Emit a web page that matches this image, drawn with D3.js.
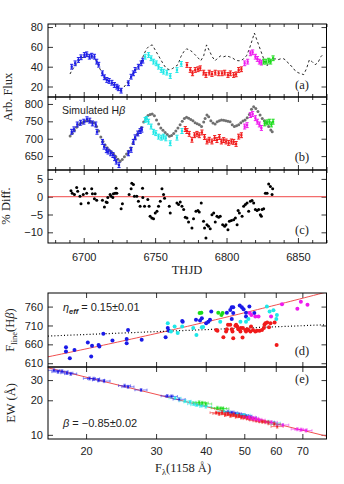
<!DOCTYPE html>
<html><head><meta charset="utf-8">
<script src="https://cdn.jsdelivr.net/npm/d3@7"></script>
<style>body{margin:0;background:#fff}svg{display:block}</style>
</head><body><svg id="c" width="344" height="484"></svg>
<script>
// ---------- DATA ----------
// Panel (a): observed points (colour groups) and dashed continuum light curve
const aBlueT=[6691.6,6694.0,6696.3,6698.1,6700.5,6702.1,6704.0,6705.6,6707.5,6709.1,6710.5,6713.1,6714.5,6716.2,6717.8,6719.7,6721.5,6723.2,6724.3,6726.2,6731.3,6733.2,6734.8,6736.0,6738.3,6740.2,6741.4];
const aBlueV=[40.0,43.4,46.8,49.5,51.8,52.5,50.1,51.1,50.1,45.1,42.0,33.3,29.3,26.6,25.6,23.8,21.5,19.8,18.2,15.8,23.3,29.9,33.3,36.7,40.0,43.4,46.1];
const aCyanT=[6743.0,6745.4,6747.2,6748.9,6750.8,6752.4,6754.3,6755.9,6758.2,6760.6,6765.3,6768.3];
const aCyanV=[50.1,51.8,48.5,45.1,43.4,40.0,36.7,35.0,34.0,30.6,36.6,42.8];
const aRedT=[6772.3,6774.6,6776.2,6778.1,6780.0,6781.6,6784.0,6785.6,6787.9,6789.8,6792.1,6794.5,6796.8,6798.7,6801.0,6802.7,6805.0,6806.7,6808.5,6810.4];
const aRedV=[41.7,36.7,33.3,36.7,37.4,38.4,34.0,31.6,34.0,32.6,34.0,33.3,33.3,34.0,31.6,33.3,31.6,32.3,36.7,37.4];
const aMagT=[6812.7,6814.8,6816.7,6818.3,6820.2,6821.6,6823.0,6824.4];
const aMagV=[43.4,45.1,53.5,54.5,50.1,47.8,45.1,44.1];
const aGrnT=[6826.0,6827.7,6829.5,6830.9,6832.6];
const aGrnV=[45.1,45.1,46.1,45.1,48.5];
const contT=[6690.4,6692,6694,6696,6698,6700,6702,6704,6706,6708,6710,6712,6714,6716,6718,6720,6722,6724,6726,6728,6730,6732,6734,6736,6738,6740,6742,6744,6746,6748,6750,6752,6754,6756,6758,6760,6762,6764,6766,6768,6770,6772,6774,6776,6778,6780,6782,6784,6786,6788,6790,6792,6794,6796,6798,6800,6802,6804,6806,6808,6810,6812,6814,6816,6818,6819.5,6821,6823,6825,6827,6828.5,6830,6832,6834,6836,6838,6840,6842,6844,6846,6848,6850,6852,6854,6856,6858,6860,6862,6864,6866,6868];
const contV=[32.6,37,41,45,48,50,51,50,50,48,42,36,30,27,25,23,21,19,17,19,23,27,32,36,40,44,52,58,61,62,57,52,47,42,38,37,38,40,42,50,55,58,57,55,52,49,46,51,62,56,50,46,49,51,50,51,50,49,47,46,46,48,51,58,67,74,68,60,52,44,41,45,47,48,47,48,48,46,42,40,36,34,33,32,38,47,45,42,44,50,53];

// Panel (b): observed H-beta (colour groups) and simulated H-beta (grey)
const bBlueT=[6691.6,6693.2,6695.5,6697.8,6700.1,6702.3,6704.2,6706.1,6708.4,6709.3,6713.1,6714.3,6715.9,6717.1,6718.9,6720.5,6721.7,6722.8,6724.7,6731.3,6733.2,6734.8,6736.0,6737.9,6739.5,6740.7];
const bBlueV=[720,727,741,746,749,756,752,744,741,720,691,677,667,663,658,653,644,634,624,658,668,691,704,715,722,726];
const bCyanT=[6743.0,6744.2,6745.4,6747.2,6748.9,6750.5,6752.4,6754.3,6755.9,6757.5,6760.6,6765.3,6768.8];
const bCyanV=[754,757,749,735,720,716,706,703,706,701,687,703,722];
const bRedT=[6771.1,6772.3,6773.9,6775.8,6777.6,6779.3,6780.9,6782.8,6784.6,6786.3,6787.9,6789.8,6791.7,6793.3,6795.0,6796.4,6798.0,6799.7,6801.5,6803.4,6805.0,6806.7,6808.5,6810.4];
const bRedV=[728,722,714,697,710,714,710,718,705,692,697,692,702,696,705,692,696,692,688,692,691,685,706,710];
const bMagT=[6812.7,6814.4,6816.7,6818.3,6820.2,6821.6,6823.0,6824.4];
const bMagV=[735,739,768,771,759,749,741,731];
const bGrnT=[6826.7,6828.4,6830.0,6831.4,6832.6];
const bGrnV=[744,747,749,741,749];
const simT=[6690.5,6692,6693.5,6695,6697,6699,6701,6703,6705,6707,6709,6710.5,6712,6713.5,6715,6716.5,6718,6719.5,6721,6722.5,6724,6725.5,6727,6728.5,6730,6731.5,6733,6734.5,6736,6737.5,6739,6740.5,6742,6743.5,6745,6746.5,6748,6749.5,6751,6752.5,6754,6755.5,6757,6758.5,6760,6761.5,6763,6764.5,6766,6767.5,6769,6770.5,6772,6773.5,6775,6776.5,6778,6779.5,6781,6782.5,6784,6785,6786.3,6787.5,6789,6790.5,6792,6793.5,6795,6796.5,6798,6799.5,6801,6802.5,6804,6805.5,6807,6808.5,6810,6811.5,6813,6814.5,6816,6817.5,6819,6820.5,6822,6823.5,6825,6826.5,6828,6829.5,6831,6832];
const simV=[708,716,724,733,741,746,750,752,749,746,735,722,705,692,682,674,667,661,655,648,641,635,640,648,656,664,673,686,700,712,722,732,748,760,767,770,771,766,754,742,731,724,718,712,707,709,715,722,731,740,750,758,762,759,755,752,746,743,740,735,748,758,768,763,752,745,742,749,752,754,753,752,750,749,740,735,737,740,746,751,754,760,770,785,792,787,778,768,758,752,746,735,725,720];

// Panel (c): % difference
const diffT=[6691.1,6692.0,6693.5,6695.1,6695.8,6697.4,6698.1,6699.7,6700.5,6702.1,6703.3,6705.6,6706.1,6707.5,6708.0,6709.1,6713.1,6714.5,6715.7,6716.4,6716.9,6718.5,6719.2,6720.4,6720.8,6722.0,6722.7,6723.2,6726.2,6727.1,6731.8,6733.2,6733.7,6734.8,6735.5,6737.2,6738.3,6739.5,6741.2,6741.4,6742.6,6744.9,6745.8,6746.5,6747.7,6748.9,6750.1,6751.3,6752.4,6753.6,6754.8,6755.9,6756.6,6759.9,6760.6,6765.3,6766.4,6767.6,6768.8,6770.0,6771.1,6772.3,6773.4,6775.8,6776.9,6778.6,6780.0,6780.9,6782.3,6783.9,6784.6,6785.6,6786.3,6787.4,6788.6,6789.8,6791.0,6792.1,6793.3,6794.5,6795.6,6797.3,6798.7,6799.6,6801.0,6802.0,6803.4,6805.0,6806.2,6807.4,6808.1,6809.0,6810.9,6812.0,6813.2,6814.4,6815.5,6816.7,6817.9,6819.0,6820.2,6821.4,6822.5,6823.7,6824.4,6824.9,6826.0,6827.2,6828.4,6829.5,6830.7,6831.9,6832.3];
const diffV=[1.7,1.0,0.6,2.6,1.5,0.1,-2.0,0.6,2.2,1.0,-1.8,2.2,0.8,-0.6,0.8,-1.0,-1.0,-2.9,-1.5,-1.6,-0.2,0.6,0.1,-0.2,0.8,1.0,2.4,1.0,-3.4,-2.0,0.6,2.2,3.8,3.4,0.1,0.1,-1.3,-2.7,2.4,-0.2,-2.7,-0.8,-2.7,-5.5,-6.0,-6.2,-4.6,-4.1,-2.7,-1.3,2.2,0.6,-0.4,-2.7,-4.6,-1.8,-2.2,-1.5,-2.7,-3.6,-5.8,-6.0,-7.1,-8.8,-6.2,-4.1,-3.9,-4.3,-1.8,-6.9,-8.8,-11.6,-7.9,-8.3,-9.0,-5.1,-4.6,-7.1,-5.5,-5.8,-5.5,-7.9,-8.3,-7.9,-9.3,-6.9,-6.7,-6.5,-6.0,-7.9,-3.9,-4.6,-5.5,-2.7,-2.2,-1.8,-4.1,-1.3,-1.1,-1.8,-3.6,-3.9,-3.6,-5.1,-5.5,-3.6,-3.4,1.0,1.0,3.6,2.9,0.6,2.2];

// Panel (d): F_line(Hbeta) vs F_lambda(1158)
const dBlueF=[17.8,17.8,18.2,18.7,20.2,20.6,20.7,21.5,21.6,22.1,23.3,25.3,25.3,25.5,27.6,31.7,32.1,32.3,34.9,35.0,37.8,38.7,39.1,40.1,40.6,41.3,41.0,45.2,46.1,46.5,46.5,46.9,46.9,48.7,49.3,49.8,50.5,51.5,50.5,53.0];
const dBlueV=[652,641,623,645,665,628,656,658,654,688,670,674,663,698,672,679,703,696,722,720,725,723,729,716,720,747,725,744,751,758,727,758,743,763,758,753,744,760,734,743];
const dCyanF=[32.1,32.7,33.4,34.0,34.9,37.2,37.9,39.1,39.4,43.5,48.9,50.5,51.2,57.0,57.9,59.2,60.2,60.4];
const dCyanV=[716,694,707,690,707,703,685,705,706,720,720,720,727,760,747,750,727,738];
const dGrnF=[38.6,39.0,43.0,43.8,44.1];
const dGrnV=[743,744,744,738,743];
const dMagF=[51.6,52.1,53.3,54.3,58.4,62.2,68.0,69.4,72.1];
const dMagV=[743,738,734,734,734,766,754,773,765];
const dRedF=[42.5,42.8,44.3,45.0,45.2,45.5,46.1,46.5,46.7,46.9,47.5,47.7,48.0,48.3,48.9,49.0,49.5,49.6,50.3,50.5,50.9,51.2,51.8,52.0,52.6,53.3,53.8,54.6,55.4,56.0,56.2,56.5,57.1,57.7,58.2,59.6,60.3];
const dRedV=[698,696,679,694,700,712,712,700,694,676,709,712,707,700,694,703,678,703,698,694,700,698,694,707,698,694,696,696,698,703,712,716,718,705,716,718,658];

// Panel (e): EW vs F_lambda(1158)
const eBlueF=[16.6,17.0,17.4,17.9,18.3,20.4,20.9,21.5,22.2,25.0,25.5,27.5,32.0,32.8,34.3,45.5,46.5,47.5,48.5,49.5,50.5,51.8];
const eBlueEW=[36.5,35.4,35.8,34.6,34.0,31.0,30.8,30.0,29.4,26.8,26.2,24.6,21.8,21.6,20.4,15.9,15.6,15.3,15.1,14.8,14.6,14.2];
const eCyanF=[33.5,35.5,36.5,37.3,38.0,39.0,40.0,44.5,48.0,50.0,57.5,59.5,60.5];
const eCyanEW=[20.9,19.7,19.3,18.6,18.2,18.0,17.6,16.0,15.1,14.9,13.0,12.7,12.3];
const eGrnF=[38.5,39.2,40.0,42.8,43.6,44.2];
const eGrnEW=[19.2,19.0,18.6,17.2,17.0,16.9];
const eRedF=[42.5,43.2,44.0,44.8,45.5,46.2,47.0,47.7,48.5,49.2,50.0,50.8,51.5,52.5,53.5,54.5,55.5,56.5,57.5,59.5,60.5];
const eRedEW=[15.6,15.3,15.6,15.0,15.2,14.7,15.0,14.5,14.6,14.2,14.3,14.0,13.8,13.7,13.4,13.2,13.1,12.9,12.8,12.4,11.8];
const eMagF=[51.5,52.5,53.5,54.5,58.5,62.5,68.0,69.5,71.5];
const eMagEW=[14.3,14.0,13.7,13.5,12.9,12.2,11.2,11.1,10.9];

// Fits
const etaFit=0.15, etaNorm=626.7, etaRef=16;      // F_line = norm*(F/ref)^eta
const flatFit=[[16.04,682],[80.5,712]];           // dotted line ends
const betaFit=-0.85, betaNorm=406;                // EW = norm*F^beta

// Tick values
const tMajor=[6700,6750,6800,6850];
const tMinor=[6680,6690,6710,6720,6730,6740,6760,6770,6780,6790,6810,6820,6830,6840,6860,6870];
const aTicks=[20,40,60,80], bTicks=[650,700,750,800], cTicks=[-10,-5,0,5];
const dTicks=[610,660,710,760], eTicks=[10,20,30], fTicks=[20,30,40,50,60,70];

// ---------- DRAWING ----------
const colors={blue:"#1a1ae8",cyan:"#1ee8e8",red:"#f01a1a",mag:"#ee1aee",grn:"#1adc1a"};
const svg=d3.select("#c");
const sans="'Liberation Sans', Arial, sans-serif";
const serif="'Liberation Serif', 'Times New Roman', serif";
const L=48,R=326.5;
const P={a:[24,97],b:[97,170],c:[170,243],d:[293,367],e:[367,439]};

const xT=d3.scaleLinear().domain([6675,6870]).range([L,R]);
const yA=d3.scaleLinear().domain([9.4,83.1]).range([P.a[1],P.a[0]]);
const yB=d3.scaleLinear().domain([610,820]).range([P.b[1],P.b[0]]);
const yC=d3.scaleLinear().domain([-13,7.5]).range([P.c[1],P.c[0]]);
const xF=d3.scaleLog().domain([16.04,80.5]).range([L,R]);
const yD=d3.scaleLinear().domain([600,796]).range([P.d[1],P.d[0]]);
const yE=d3.scaleLog().domain([9.2,39]).range([P.e[1],P.e[0]]);

const defs=svg.append("defs");
Object.entries(P).forEach(([k,p])=>{
  defs.append("clipPath").attr("id","clip"+k).append("rect")
    .attr("x",L).attr("y",p[0]).attr("width",R-L).attr("height",p[1]-p[0]);
});

function ax(fn,scale,vals,size,tr,fmt,pad){
  const a=fn(scale).tickValues(vals).tickSize(-size).tickPadding(pad||5)
    .tickFormat(fmt||(()=>""));
  const g=svg.append("g").attr("transform",tr).call(a);
  g.select(".domain").remove();
  g.selectAll("line").attr("stroke","#000").attr("stroke-width",0.8);
  g.selectAll("text").attr("font-family",sans).attr("font-size",11).attr("fill","#222");
  return g;
}
const minus=d=>(d<0?"\u2212"+Math.abs(d):""+d);

// time panels axes
[["a",yA,aTicks],["b",yB,bTicks],["c",yC,cTicks]].forEach(([k,ys,tv])=>{
  const [t,b]=P[k];
  ax(d3.axisTop,xT,tMajor,5,`translate(0,${t})`);
  ax(d3.axisTop,xT,tMinor,3,`translate(0,${t})`);
  ax(d3.axisBottom,xT,tMajor,5,`translate(0,${b})`, k==="c"?(d=>d):null, 10);
  ax(d3.axisBottom,xT,tMinor,3,`translate(0,${b})`);
  ax(d3.axisLeft,ys,tv,5,`translate(${L},0)`,minus,5);
  ax(d3.axisRight,ys,tv,5,`translate(${R},0)`);
});
// flux panels axes
ax(d3.axisTop,xF,fTicks,5,`translate(0,${P.d[0]})`);
ax(d3.axisBottom,xF,fTicks,5,`translate(0,${P.d[1]})`);
ax(d3.axisLeft,yD,dTicks,5,`translate(${L},0)`,d=>d,5);
ax(d3.axisRight,yD,dTicks,5,`translate(${R},0)`);
ax(d3.axisTop,xF,fTicks,5,`translate(0,${P.e[0]})`);
ax(d3.axisBottom,xF,fTicks,5,`translate(0,${P.e[1]})`,d=>d,8);
ax(d3.axisLeft,yE,eTicks,5,`translate(${L},0)`,d=>d,5);
ax(d3.axisRight,yE,eTicks,5,`translate(${R},0)`);

const zip=(A,B)=>A.map((v,i)=>[v,B[i]]);

// error bar "I" markers
function ibars(g,T,V,err,ys,col){
  zip(T,V).forEach(([t,v])=>{
    const x=xT(t),y0=ys(v-err),y1=ys(v+err);
    g.append("line").attr("x1",x).attr("x2",x).attr("y1",y0).attr("y2",y1).attr("stroke",col).attr("stroke-width",1);
    [y0,y1].forEach(y=>g.append("line").attr("x1",x-1.6).attr("x2",x+1.6).attr("y1",y).attr("y2",y).attr("stroke",col).attr("stroke-width",1));
    g.append("rect").attr("x",x-1.1).attr("y",ys(v)-1.1).attr("width",2.2).attr("height",2.2).attr("fill",col);
  });
}

// Panel a
const ga=svg.append("g").attr("clip-path","url(#clipa)");
ga.append("path").datum(zip(contT,contV))
  .attr("d",d3.line().x(d=>xT(d[0])).y(d=>yA(d[1])))
  .attr("fill","none").attr("stroke","#111").attr("stroke-width",0.9).attr("stroke-dasharray","2.5,2.5");
const aErr=2.4;
ibars(ga,aBlueT,aBlueV,aErr,yA,colors.blue);
ibars(ga,aCyanT,aCyanV,aErr,yA,colors.cyan);
ibars(ga,aRedT,aRedV,aErr,yA,colors.red);
ibars(ga,aMagT,aMagV,aErr,yA,colors.mag);
ibars(ga,aGrnT,aGrnV,aErr,yA,colors.grn);

// Panel b
const gb=svg.append("g").attr("clip-path","url(#clipb)");
gb.selectAll("circle").data(zip(simT,simV)).join("circle")
  .attr("cx",d=>xT(d[0])).attr("cy",d=>yB(d[1])).attr("r",1.5).attr("fill","#707070");
const bErr=7;
ibars(gb,bBlueT,bBlueV,bErr,yB,colors.blue);
ibars(gb,bCyanT,bCyanV,bErr,yB,colors.cyan);
ibars(gb,bRedT,bRedV,bErr,yB,colors.red);
ibars(gb,bMagT,bMagV,bErr,yB,colors.mag);
ibars(gb,bGrnT,bGrnV,bErr,yB,colors.grn);

// Panel c
const gc=svg.append("g").attr("clip-path","url(#clipc)");
gc.append("line").attr("x1",L).attr("x2",R).attr("y1",yC(0)).attr("y2",yC(0)).attr("stroke","#f04848").attr("stroke-width",1);
gc.selectAll("circle").data(zip(diffT,diffV)).join("circle")
  .attr("cx",d=>xT(d[0])).attr("cy",d=>yC(d[1])).attr("r",1.5).attr("fill","#000");

// Panel d
const gd=svg.append("g").attr("clip-path","url(#clipd)");
const fr=d3.range(0,61).map(i=>16*Math.pow(81/16,i/60));
gd.append("path").datum(fr).attr("d",d3.line().x(f=>xF(f)).y(f=>yD(etaNorm*Math.pow(f/etaRef,etaFit))))
  .attr("fill","none").attr("stroke","#f05050").attr("stroke-width",1);
gd.append("path").datum(flatFit).attr("d",d3.line().x(d=>xF(d[0])).y(d=>yD(d[1])))
  .attr("fill","none").attr("stroke","#000").attr("stroke-width",1.2).attr("stroke-dasharray","1,2.2");
[[dBlueF,dBlueV,colors.blue],[dCyanF,dCyanV,colors.cyan],[dGrnF,dGrnV,colors.grn],[dMagF,dMagV,colors.mag],[dRedF,dRedV,colors.red]]
.forEach(([F,V,col])=>{
  gd.append("g").selectAll("circle").data(zip(F,V)).join("circle")
    .attr("cx",d=>xF(d[0])).attr("cy",d=>yD(d[1])).attr("r",2).attr("fill",col);
});

// Panel e
const ge=svg.append("g").attr("clip-path","url(#clipe)");
ge.append("path").datum([16,81]).attr("d",d3.line().x(f=>xF(f)).y(f=>yE(betaNorm*Math.pow(f,betaFit))))
  .attr("fill","none").attr("stroke","#f05050").attr("stroke-width",1);
const fErr=0.035, ewErr=0.03;
[[eBlueF,eBlueEW,colors.blue],[eCyanF,eCyanEW,colors.cyan],[eGrnF,eGrnEW,colors.grn],[eRedF,eRedEW,colors.red],[eMagF,eMagEW,colors.mag]]
.forEach(([F,E,col])=>{
  const g=ge.append("g");
  zip(F,E).forEach(([f,e])=>{
    const x=xF(f),y=yE(e),x0=xF(f*(1-fErr)),x1=xF(f*(1+fErr)),y0=yE(e*(1-ewErr)),y1=yE(e*(1+ewErr));
    const s=g.append("g").attr("stroke",col).attr("stroke-width",0.9).attr("opacity",0.6);
    s.append("line").attr("x1",x0).attr("x2",x1).attr("y1",y).attr("y2",y);
    s.append("line").attr("x1",x).attr("x2",x).attr("y1",y0).attr("y2",y1);
    [x0,x1].forEach(xx=>s.append("line").attr("x1",xx).attr("x2",xx).attr("y1",y-1.3).attr("y2",y+1.3));
    [y0,y1].forEach(yy=>s.append("line").attr("x1",x-1.3).attr("x2",x+1.3).attr("y1",yy).attr("y2",yy));
    g.append("rect").attr("x",x-0.9).attr("y",y-0.9).attr("width",1.8).attr("height",1.8).attr("fill",col);
  });
});

// frames
Object.values(P).forEach(p=>{
  svg.append("rect").attr("x",L).attr("y",p[0]).attr("width",R-L).attr("height",p[1]-p[0])
    .attr("fill","none").attr("stroke","#000").attr("stroke-width",1);
});

// ---------- TEXT ----------
function txt(x,y,s,opt){
  const t=svg.append("text").attr("x",x).attr("y",y).attr("font-family",opt.font||serif)
    .attr("font-size",opt.size||12).attr("fill","#222").attr("text-anchor",opt.anchor||"middle");
  if(opt.rot) t.attr("transform",`rotate(-90,${x},${y})`);
  if(typeof s==="string") t.text(s); else s(t);
  return t;
}
txt(12,97,"Arb. Flux",{rot:true,size:12.5});
txt(10,206,"% Diff.",{rot:true,size:12.5});
txt(187,274,"THJD",{size:12.5});
txt(14,330,t=>{t.append("tspan").text("F");t.append("tspan").attr("font-size",8.5).attr("dy",3).text("line");t.append("tspan").attr("dy",-3).text("(H");t.append("tspan").attr("font-style","italic").text("\u03b2");t.append("tspan").text(")");},{rot:true,size:12.5});
txt(15,403,"EW (\u00c5)",{rot:true,size:12.5});
txt(183,472,t=>{t.append("tspan").text("F");t.append("tspan").attr("font-size",8.5).attr("dy",3).text("\u03bb");t.append("tspan").attr("dy",-3).text("(1158 \u00c5)");},{size:12.5});

txt(302,89,"(a)",{size:12.5});
txt(302,161,"(b)",{size:12.5});
txt(302,234,"(c)",{size:12.5});
txt(302,355,"(d)",{size:12.5});
txt(302,383,"(e)",{size:12.5});

txt(62,114,t=>{t.append("tspan").text("Simulated H");t.append("tspan").attr("font-style","italic").text("\u03b2");},{font:sans,size:10.5,anchor:"start"});
txt(63,311,t=>{t.append("tspan").attr("font-style","italic").text("\u03b7");t.append("tspan").attr("font-size",7.5).attr("font-weight","bold").attr("font-style","italic").attr("dy",2.5).text("eff");t.append("tspan").attr("dy",-2.5).text(" = 0.15\u00b10.01");},{font:sans,size:11,anchor:"start"});
txt(63,427,t=>{t.append("tspan").attr("font-style","italic").text("\u03b2");t.append("tspan").text(" = \u22120.85\u00b10.02");},{font:sans,size:11,anchor:"start"});
</script></body></html>
